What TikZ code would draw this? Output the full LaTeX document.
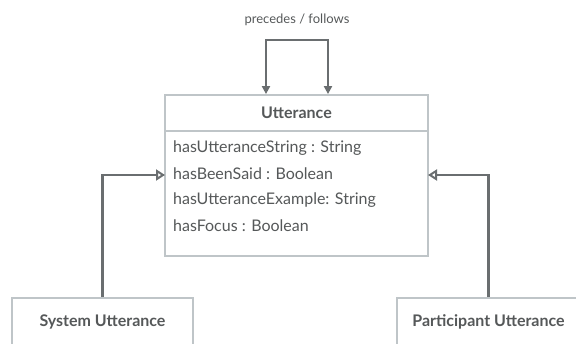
\documentclass[tikz,border=0pt]{standalone}
\usepackage{fontspec}
\setmainfont{Lato}
\usetikzlibrary{arrows.meta}
\definecolor{boxc}{HTML}{BFC5C8}
\definecolor{arrc}{HTML}{6A6E70}
\definecolor{txtc}{HTML}{555859}
\tikzset{
  umlbox/.style={draw=boxc, line width=1.8pt, fill=white, inner sep=0pt},
  conn/.style={draw=arrc, line width=2.4pt},
  inh/.style={conn, -{Triangle[open, length=9pt, width=11pt, line width=2pt]}},
  selfarr/.style={conn, {Triangle[length=8pt, width=8pt]}-{Triangle[length=8pt, width=8pt]}},
  attr/.style={anchor=west, text=txtc, font=\fontsize{16}{18}\selectfont, inner sep=0pt},
  ttl/.style={text=txtc, font=\bfseries\fontsize{16}{18}\selectfont, inner sep=0pt},
}
\begin{document}
\begin{tikzpicture}[x=1pt, y=-1pt]
\useasboundingbox (0,0) rectangle (576,343);
\clip (0,0) rectangle (576,343);
% Utterance class
\node[umlbox, minimum width=263pt, minimum height=161pt] (utt) at (296.5,175.5) {};
\coordinate (hl) at (165,131);
\coordinate (hr) at (428,131);
\draw[draw=boxc, line width=1.8pt] (hl) -- (hr);
\node[ttl] (title) at (296.5,113) {Utterance};
\node[attr] (a1) at (173,148) {hasUtteranceString : String};
\node[attr] (a2) at (173,174) {hasBeenSaid : Boolean};
\node[attr] (a3) at (173,200) {hasUtteranceExample: String};
\node[attr] (a4) at (173,226) {hasFocus : Boolean};
% self association
\node[text=txtc, font=\fontsize{13}{15}\selectfont, inner sep=0pt] (lbl) at (297,20) {precedes / follows};
\coordinate (s2) at (328,40);
\draw[selfarr] ([xshift=-30.5pt]utt.north) |- (s2) -- ([xshift=31.5pt]utt.north);
% subclasses
\node[umlbox, minimum width=181pt, minimum height=60pt] (sys) at (102.5,328) {};
\node[ttl] (syst) at (102.5,322) {System Utterance};
\node[umlbox, minimum width=183pt, minimum height=60pt] (par) at (488.5,328) {};
\node[ttl] (part) at (488.5,322) {Participant Utterance};
\coordinate (ul) at (165,175);
\coordinate (ur) at (428,175);
\draw[inh] (sys.north) |- (ul);
\draw[inh] (par.north) |- (ur);
\end{tikzpicture}
\end{document}
